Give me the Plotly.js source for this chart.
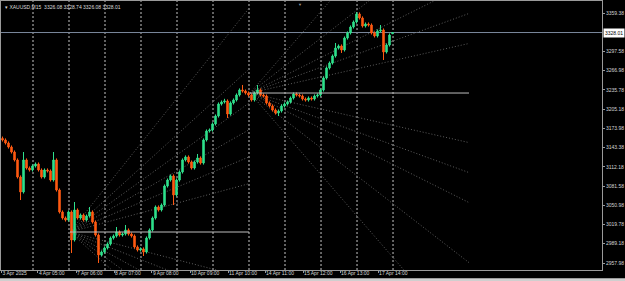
<!DOCTYPE html>
<html><head><meta charset="utf-8">
<script src="https://cdn.plot.ly/plotly-3.0.1.min.js"></script>
<style>html,body{margin:0;padding:0;background:#000;overflow:hidden}</style>
</head><body><div id="chart" style="width:625px;height:281px"></div>
<script>
// ---- data (XAUUSD M15; each candle ~ a group of bars) ----
const opens = [3158.0,3155.5,3150.7,3144.2,3136.2,3123.4,3096.1,3072.0,3123.4,3110.5,
3107.3,3113.7,3116.9,3107.3,3096.1,3107.3,3105.7,3091.2,3123.4,3075.2,
3039.9,3030.2,3027.0,3039.9,2994.9,3043.1,3030.2,3035.0,3027.0,3033.4,
3039.9,3023.8,3002.9,2970.8,2975.6,2982.1,2988.5,2998.1,3001.3,3007.8,
3002.9,3004.5,3011.0,3004.5,3001.3,2983.7,2978.9,2980.5,2975.6,2998.1,
3011.0,3030.2,3047.9,3043.1,3051.1,3081.6,3091.2,3097.7,3067.2,3091.2,
3104.1,3123.4,3128.2,3120.1,3110.5,3120.1,3126.6,3118.5,3155.5,3169.9,
3171.5,3181.2,3194.0,3213.3,3216.5,3218.1,3197.2,3214.9,3219.7,3227.7,
3235.8,3234.1,3230.9,3227.7,3219.7,3230.9,3235.8,3227.7,3226.1,3214.9,
3210.1,3203.6,3198.8,3202.0,3210.1,3213.3,3216.5,3222.9,3229.3,3227.7,
3226.1,3221.3,3219.7,3222.9,3221.3,3226.1,3227.7,3235.8,3255.0,3271.1,
3279.1,3290.3,3303.2,3306.4,3300.0,3319.2,3327.3,3336.9,3344.9,3357.8,
3351.4,3338.5,3341.7,3340.1,3327.3,3322.5,3330.5,3332.1,3296.8,3308.0,
3326.08];
const highs = [3161.0,3158.0,3153.2,3146.7,3138.7,3125.9,3098.6,3136.2,3125.9,3113.0,
3116.2,3119.4,3119.4,3109.8,3109.8,3109.8,3108.2,3136.2,3125.9,3077.7,
3042.4,3032.7,3042.4,3042.4,3055.9,3045.6,3037.5,3037.5,3035.9,3047.9,
3042.4,3026.3,3005.4,2978.1,2984.6,2991.0,3000.6,3003.8,3015.8,3010.3,
3007.0,3019.0,3013.5,3007.0,3003.8,2986.2,2983.0,2983.0,3000.6,3013.5,
3032.7,3050.4,3050.4,3053.6,3084.1,3093.7,3100.2,3100.2,3093.7,3106.6,
3125.9,3130.7,3130.7,3122.6,3122.6,3133.0,3129.1,3158.0,3172.4,3174.0,
3183.7,3196.5,3215.8,3219.0,3221.6,3220.6,3217.4,3222.2,3230.2,3238.3,
3243.8,3236.6,3233.4,3230.2,3233.4,3243.8,3238.3,3230.2,3228.6,3217.4,
3212.6,3206.1,3204.5,3212.6,3215.8,3219.0,3225.4,3231.8,3231.8,3230.2,
3228.6,3223.8,3225.4,3225.4,3228.6,3230.2,3238.3,3257.5,3273.6,3281.6,
3292.8,3311.2,3308.9,3308.9,3321.7,3329.8,3339.4,3347.4,3361.0,3360.3,
3353.9,3344.2,3344.2,3342.6,3329.8,3333.0,3340.1,3334.6,3310.5,3326.6,
3328.74];
const lows = [3153.0,3148.2,3141.7,3133.7,3120.9,3093.6,3059.1,3069.5,3108.0,3104.8,
3104.8,3111.2,3104.8,3093.6,3093.6,3103.2,3088.7,3088.7,3072.7,3037.4,
3027.7,3024.5,3024.5,2974.0,2992.4,3027.7,3027.7,3024.5,3024.5,3030.9,
3021.3,3000.4,2958.0,2968.3,2973.1,2979.6,2986.0,2995.6,2998.8,3000.4,
3000.4,3002.0,3002.0,2998.8,2981.2,2976.4,2976.4,2969.2,2973.1,2995.6,
3008.5,3027.7,3040.6,3040.6,3048.6,3079.1,3088.7,3051.1,3064.7,3088.7,
3101.6,3120.9,3117.6,3108.0,3108.0,3117.6,3116.0,3116.0,3153.0,3167.4,
3169.0,3178.7,3191.5,3210.8,3214.0,3190.8,3194.7,3212.4,3217.2,3225.2,
3231.6,3228.4,3225.2,3217.2,3217.2,3228.4,3225.2,3223.6,3212.4,3207.6,
3201.1,3196.3,3194.0,3199.5,3207.6,3210.8,3214.0,3220.4,3225.2,3223.6,
3218.8,3217.2,3217.2,3218.8,3218.8,3223.6,3225.2,3233.3,3252.5,3268.6,
3276.6,3287.8,3300.7,3295.2,3297.5,3316.7,3324.8,3334.4,3342.4,3348.9,
3336.0,3336.0,3337.6,3324.8,3320.0,3320.0,3328.0,3283.9,3294.3,3305.5,
3326.08];
const closes = [3155.5,3150.7,3144.2,3136.2,3123.4,3096.1,3072.0,3123.4,3110.5,3107.3,
3113.7,3116.9,3107.3,3096.1,3107.3,3105.7,3091.2,3123.4,3075.2,3039.9,
3030.2,3027.0,3039.9,2994.9,3043.1,3030.2,3035.0,3027.0,3033.4,3039.9,
3023.8,3002.9,2970.8,2975.6,2982.1,2988.5,2998.1,3001.3,3007.8,3002.9,
3004.5,3011.0,3004.5,3001.3,2983.7,2978.9,2980.5,2975.6,2998.1,3011.0,
3030.2,3047.9,3043.1,3051.1,3081.6,3091.2,3097.7,3067.2,3091.2,3104.1,
3123.4,3128.2,3120.1,3110.5,3120.1,3126.6,3118.5,3155.5,3169.9,3171.5,
3181.2,3194.0,3213.3,3216.5,3218.1,3197.2,3214.9,3219.7,3227.7,3235.8,
3234.1,3230.9,3227.7,3219.7,3230.9,3235.8,3227.7,3226.1,3214.9,3210.1,
3203.6,3198.8,3202.0,3210.1,3213.3,3216.5,3222.9,3229.3,3227.7,3226.1,
3221.3,3219.7,3222.9,3221.3,3226.1,3227.7,3235.8,3255.0,3271.1,3279.1,
3290.3,3303.2,3306.4,3300.0,3319.2,3327.3,3336.9,3344.9,3357.8,3351.4,
3338.5,3341.7,3340.1,3327.3,3322.5,3330.5,3332.1,3296.8,3308.0,3324.0,
3328.01];

const xTickLabels = ['3 Apr 2025','4 Apr 05:00','7 Apr 06:00','8 Apr 07:00','9 Apr 08:00',
  '10 Apr 09:00','11 Apr 10:00','14 Apr 11:00','15 Apr 12:00','16 Apr 13:00','17 Apr 14:00'];
const xTickBars = [0.2, 12.3, 25.0, 37.7, 50.3, 63.0, 75.7, 88.0, 100.7, 113.0, 125.7];
const yTickValues = [2957.98, 2989.18, 3019.78, 3050.98, 3081.58, 3112.18, 3143.38,
  3173.98, 3205.18, 3235.78, 3266.98, 3297.58, 3359.38];
const gridBars = [10.67, 22.67, 34.67, 46.67, 58.67, 70.67, 82.67, 94.67, 106.67, 118.67, 130.67];

const lastPrice = 3328.01;
const headerText = 'XAUUSD,M15  3326.08 3328.74 3326.08 3328.01';

const hLinePrices = [3007.75, 3230.9];
const hLineStartBars = [23, 83];
const hLineEndBars = [82.7, 156];

// fans: origin, end bar, slopes (price per bar)
const fanOriginBars = [23, 83];
const fanOriginPrices = [3007.75, 3230.9];
const fanEndBars = [82.7, 156];
const fanASlopes = [6.02, 4.38, 3.47, 2.75, 2.02, 1.30, -1.25, -1.88, -2.65, -3.47, -4.38];
const fanBSlopes = [5.54, 3.73, 2.41, 1.75, 1.09, -1.09, -1.75, -2.41, -3.73, -5.54];

// ---- build ----
const xs = closes.map((_, i) => i + 0.5);
const FONT = 'Liberation Sans, Arial, sans-serif';

const shapes = [];
gridBars.forEach(b => shapes.push({type:'line', xref:'x', yref:'paper', x0:b, x1:b, y0:0, y1:1,
  line:{color:'#c4c4c4', width:1, dash:'2px,2px'}, layer:'below'}));
[fanASlopes, fanBSlopes].forEach((sl, k) => {
  sl.forEach(s => shapes.push({type:'line', xref:'x', yref:'y',
    x0:fanOriginBars[k], y0:fanOriginPrices[k],
    x1:fanEndBars[k], y1:fanOriginPrices[k] + s*(fanEndBars[k]-fanOriginBars[k]),
    line:{color:'#5e5e5e', width:1, dash:'1px,2px'}, layer:'below'}));
});
hLinePrices.forEach((p, k) => shapes.push({type:'line', xref:'x', yref:'y',
  x0:hLineStartBars[k], x1:hLineEndBars[k], y0:p, y1:p, line:{color:'#bdbdbd', width:1}}));
shapes.push({type:'line', xref:'paper', yref:'y', x0:0, x1:1, y0:lastPrice, y1:lastPrice,
  line:{color:'#7a889c', width:1}, layer:'below'});
// bottom window strip
shapes.push({type:'rect', xref:'paper', yref:'paper', x0:-0.01, x1:1.05, y0:-0.0305, y1:-0.05,
  fillcolor:'#cfcfcf', line:{width:0}, layer:'below'});

const trace = {
  type:'candlestick', x:xs, open:opens, high:highs, low:lows, close:closes,
  increasing:{line:{color:'#2fe08c', width:1}, fillcolor:'#2fe08c'},
  decreasing:{line:{color:'#ff5a12', width:1}, fillcolor:'#ff5a12'},
  whiskerwidth:0, hoverinfo:'skip', showlegend:false
};

const layout = {
  width:625, height:281,
  margin:{l:1, r:23, t:1, b:11, pad:0},
  paper_bgcolor:'#000', plot_bgcolor:'#000',
  showlegend:false,
  xaxis:{range:[0, 200.33], rangeslider:{visible:false}, showgrid:false, zeroline:false,
    tickvals:xTickBars, ticktext:xTickLabels, ticklabelposition:'outside right',
    tickangle:0, ticklabelstandoff:-2,
    ticks:'outside', ticklen:2, tickcolor:'#9a9a9a',
    tickfont:{family:FONT, size:5, color:'#d6d6d6'},
    showline:true, mirror:true, linecolor:'#9a9a9a', linewidth:1, fixedrange:true},
  yaxis:{range:[2946.74, 3378.64], side:'right', showgrid:false, zeroline:false,
    tickvals:yTickValues, ticktext:yTickValues.map(v => v.toFixed(2)),
    ticks:'outside', ticklen:2, tickcolor:'#9a9a9a',
    tickfont:{family:FONT, size:5, color:'#d6d6d6'},
    showline:true, mirror:true, linecolor:'#9a9a9a', linewidth:1, fixedrange:true},
  shapes:shapes,
  annotations:[
    {xref:'paper', yref:'y', x:1, y:lastPrice, xanchor:'left', yanchor:'middle', xshift:1,
      text:lastPrice.toFixed(2), showarrow:false, bgcolor:'#ffffff', borderpad:1,
      font:{family:FONT, size:5, color:'#000'}},
    {xref:'paper', yref:'paper', x:0, y:1, xanchor:'left', yanchor:'top', xshift:2, yshift:-1,
      text:'▾ ' + headerText, showarrow:false, font:{family:FONT, size:5, color:'#dcdcdc'}},
    {xref:'paper', yref:'paper', x:0.497, y:1, xanchor:'center', yanchor:'top', yshift:1,
      text:'▼', showarrow:false, font:{family:FONT, size:4, color:'#9a9a9a'}}
  ]
};

Plotly.newPlot('chart', [trace], layout, {staticPlot:true, displayModeBar:false});
</script></body></html>
